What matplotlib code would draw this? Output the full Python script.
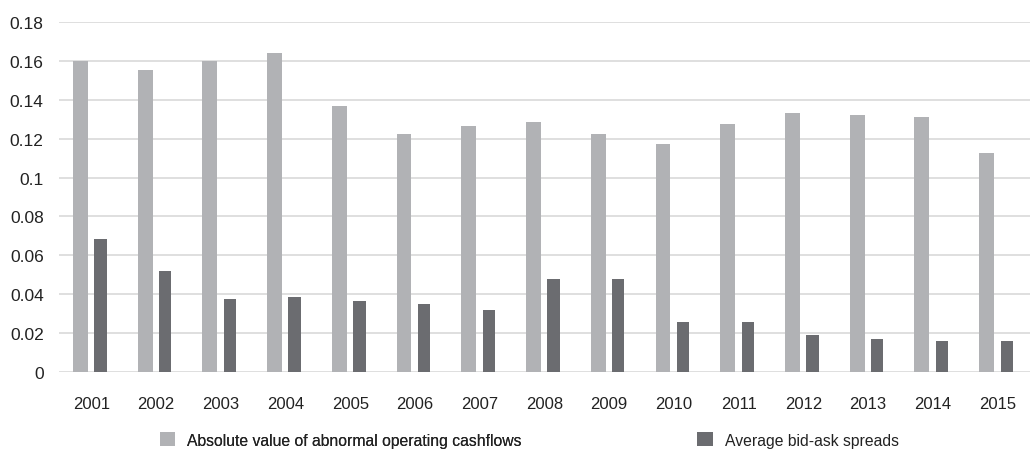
import matplotlib.pyplot as plt
import numpy as np
from matplotlib.ticker import FuncFormatter

years = ["2001", "2002", "2003", "2004", "2005", "2006", "2007", "2008",
         "2009", "2010", "2011", "2012", "2013", "2014", "2015"]
abnormal_cf = [0.160, 0.1555, 0.160, 0.164, 0.137, 0.1225, 0.1265, 0.1285,
               0.1225, 0.1175, 0.1275, 0.133, 0.132, 0.131, 0.1125]
bid_ask = [0.0686, 0.052, 0.0377, 0.0386, 0.0367, 0.035, 0.032, 0.048,
           0.048, 0.0255, 0.0255, 0.019, 0.017, 0.016, 0.016]

plt.rcParams['font.family'] = ['Liberation Sans', 'DejaVu Sans']

fig = plt.figure(figsize=(10.30, 4.52), dpi=100)
ax = fig.add_axes([0.0573, 0.175, 0.9427, 0.774])

x = np.arange(len(years))
b1 = ax.bar(x - 0.17, abnormal_cf, width=0.23, color="#b1b2b5", zorder=3)
b2 = ax.bar(x + 0.14, bid_ask, width=0.19, color="#6b6c70", zorder=3)

ax.set_xlim(-0.5, len(years) - 0.5)
ax.set_ylim(0, 0.18)
ax.set_yticks(np.arange(0, 0.181, 0.02))
ax.yaxis.set_major_formatter(FuncFormatter(lambda v, p: "%g" % round(v, 2)))
ax.set_xticks(x)
ax.set_xticklabels(years, fontsize=12)
ax.tick_params(axis="y", length=0, pad=11, labelsize=12.5, labelcolor="#222222")
ax.tick_params(axis="x", length=0, pad=17, labelcolor="#222222")
ax.grid(axis="y", color="#dcdcdc", linewidth=1.3, zorder=0)
for s in ax.spines.values():
    s.set_visible(False)

# two separate legend entries, spread apart like the reference
leg_opts = dict(loc="center left", frameon=False, prop={"size": 11.3},
                handlelength=1.0, handleheight=1.0, handletextpad=0.75,
                borderpad=0, borderaxespad=0, labelcolor="#222222")
leg1 = fig.legend([b1], ["Absolute value of abnormal operating cashflows"],
                  bbox_to_anchor=(0.155, 0.024), **leg_opts)
fig.add_artist(leg1)
fig.legend([b2], ["Average bid-ask spreads"],
           bbox_to_anchor=(0.677, 0.024), **leg_opts)

fig.savefig("out.png", dpi=100, facecolor="white")
